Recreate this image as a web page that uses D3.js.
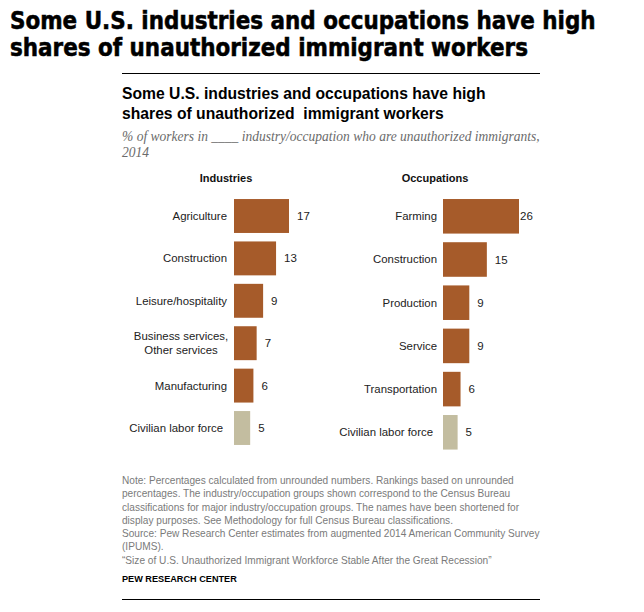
<!DOCTYPE html>
<html>
<head>
<meta charset="utf-8">
<script src="https://cdn.jsdelivr.net/npm/d3@7"></script>
<style>
  html, body { margin: 0; padding: 0; background: #fff; }
  svg { display: block; }
</style>
</head>
<body>
<script>
// ---------- data ----------
const industryLabels = ["Agriculture", "Construction", "Leisure/hospitality", "Business services,\nOther services", "Manufacturing", "Civilian labor force"];
const industryValues = [17, 13, 9, 7, 6, 5];
const occupationLabels = ["Farming", "Construction", "Production", "Service", "Transportation", "Civilian labor force"];
const occupationValues = [26, 15, 9, 9, 6, 5];
const totalLabel = "Civilian labor force";

const mainTitle = ["Some U.S. industries and occupations have high", "shares of unauthorized immigrant workers"];
const innerTitle = ["Some U.S. industries and occupations have high", "shares of unauthorized  immigrant workers"];
const subtitle = ["% of workers in ____ industry/occupation who are unauthorized immigrants,", "2014"];
const noteLines = [
  "Note: Percentages calculated from unrounded numbers. Rankings based on unrounded",
  "percentages. The industry/occupation groups shown correspond to the Census Bureau",
  "classifications for major industry/occupation groups. The names have been shortened for",
  "display purposes. See Methodology for full Census Bureau classifications.",
  "Source: Pew Research Center estimates from augmented 2014 American Community Survey",
  "(IPUMS).",
  "\u201CSize of U.S. Unauthorized Immigrant Workforce Stable After the Great Recession\u201D"
];
const credit = "PEW RESEARCH CENTER";

// ---------- setup ----------
const W = 644, H = 612;
const svg = d3.select("body").append("svg").attr("width", W).attr("height", H);
const SANS = "'Liberation Sans', Arial, sans-serif";
const BROWN = "#A65B2A", BEIGE = "#C3BDA0";

function fitGroup(sel, refNode, target) {
  const w = refNode.getComputedTextLength();
  const fs = parseFloat(d3.select(refNode).attr("font-size"));
  sel.attr("font-size", fs * target / w);
}

// main title
const mt = svg.append("g").selectAll("text").data(mainTitle).join("text")
  .attr("x", 10).attr("y", (d, i) => 29 + i * 27)
  .attr("font-family", "'Liberation Sans Narrow', 'DejaVu Sans Condensed', 'Arial Narrow', sans-serif")
  .attr("font-stretch", "condensed")
  .attr("font-weight", "bold").attr("font-size", 26).attr("fill", "#000")
  .attr("stroke", "#000").attr("stroke-width", 0.5)
  .text(d => d);
fitGroup(mt, mt.nodes()[0], 586);

svg.append("line").attr("x1", 122).attr("x2", 540).attr("y1", 73.5).attr("y2", 73.5)
  .attr("stroke", "#000").attr("stroke-width", 1);

// inner title
const it = svg.append("g").selectAll("text").data(innerTitle).join("text")
  .attr("x", 122).attr("y", (d, i) => 99 + i * 20)
  .attr("font-family", SANS).attr("font-weight", "bold").attr("font-size", 16).attr("fill", "#000")
  .attr("xml:space", "preserve").style("white-space", "pre")
  .text(d => d);
fitGroup(it, it.nodes()[0], 364);

// subtitle
const st = svg.append("g").selectAll("text").data(subtitle).join("text")
  .attr("x", 122).attr("y", (d, i) => 141 + i * 16)
  .attr("font-family", "'Liberation Serif', 'DejaVu Serif', serif").attr("font-style", "italic")
  .attr("font-size", 13).attr("fill", "#6b6b6b")
  .text(d => d);
fitGroup(st, st.nodes()[0], 418);

// ---------- panels ----------
function panel(opts) {
  const { labels, values, x0, maxV, maxPx, yRange, header, headerX, labelX, labelMax } = opts;
  const g = svg.append("g");
  const x = d3.scaleLinear().domain([0, maxV]).range([x0, x0 + maxPx]);
  const y = d3.scaleBand().domain(labels).range(yRange).paddingInner(0.2).paddingOuter(0.1);

  g.append("text").attr("x", headerX).attr("y", 182).attr("text-anchor", "middle")
    .attr("font-family", SANS).attr("font-weight", "bold").attr("font-size", 11).attr("fill", "#111")
    .text(header);

  g.selectAll("rect").data(labels).join("rect")
    .attr("x", x(0)).attr("y", d => y(d))
    .attr("width", (d, i) => x(values[i]) - x(0)).attr("height", y.bandwidth())
    .attr("fill", d => d === totalLabel ? BEIGE : BROWN);

  const lab = g.selectAll("text.cat").data(labels).join("text").attr("class", "cat")
    .attr("font-family", SANS).attr("font-size", 11.4).attr("fill", "#222");
  lab.each(function(d) {
    const t = d3.select(this);
    const parts = d.split("\n");
    const cy = y(d) + y.bandwidth() / 2;
    const lx = d === totalLabel ? labelX - 4 : labelX;
    if (parts.length === 1) {
      t.attr("x", lx).attr("y", cy).attr("dy", "0.35em").attr("text-anchor", "end").text(d);
    } else {
      const cx = labelX - 46;
      t.attr("text-anchor", "middle");
      parts.forEach((p, k) => {
        t.append("tspan").attr("x", cx).attr("y", cy + (k - (parts.length - 1) / 2) * 14)
          .attr("dy", "0.35em").text(p);
      });
    }
  });

  g.selectAll("text.val").data(labels).join("text").attr("class", "val")
    .attr("x", (d, i) => Math.min(x(values[i]) + 8, labelMax))
    .attr("y", d => y(d) + y.bandwidth() / 2).attr("dy", "0.35em")
    .attr("font-family", SANS).attr("font-size", 11.5).attr("fill", "#222")
    .text((d, i) => values[i]);
}

panel({ labels: industryLabels, values: industryValues, x0: 234, maxV: 17, maxPx: 55,
        yRange: [194.8, 449.2], header: "Industries", headerX: 226, labelX: 227, labelMax: 400 });
panel({ labels: occupationLabels, values: occupationValues, x0: 443, maxV: 26, maxPx: 76,
        yRange: [194.7, 453.9], header: "Occupations", headerX: 435, labelX: 437, labelMax: 520 });

// ---------- notes ----------
const nt = svg.append("g").selectAll("text").data(noteLines).join("text")
  .attr("x", 122).attr("y", (d, i) => 484 + i * 13.25)
  .attr("font-family", SANS).attr("font-size", 10).attr("fill", "#7a7a7a")
  .text(d => d);
fitGroup(nt, nt.nodes()[4], 418);

const cr = svg.append("text").attr("x", 122).attr("y", 582)
  .attr("font-family", SANS).attr("font-weight", "bold").attr("font-size", 10).attr("fill", "#000")
  .text(credit);
fitGroup(cr, cr.node(), 115);

svg.append("line").attr("x1", 122).attr("x2", 540).attr("y1", 599.5).attr("y2", 599.5)
  .attr("stroke", "#000").attr("stroke-width", 1);
</script>
</body>
</html>
